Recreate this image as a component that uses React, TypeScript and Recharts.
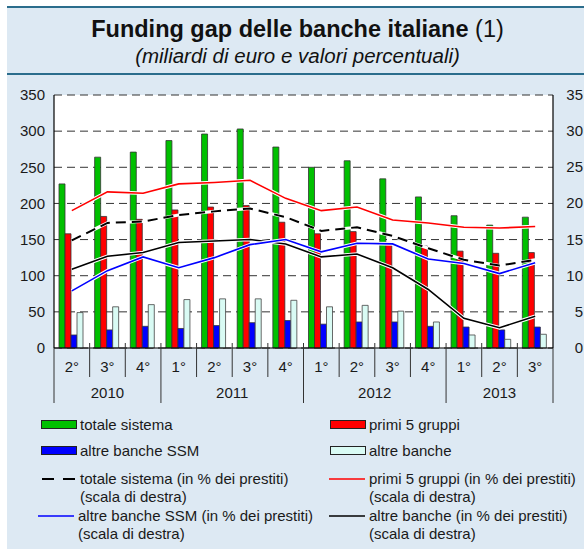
import {
  ComposedChart,
  Bar,
  Line,
  XAxis,
  YAxis,
  CartesianGrid,
} from "recharts";

const quarters = ["2°", "3°", "4°", "1°", "2°", "3°", "4°", "1°", "2°", "3°", "4°", "1°", "2°", "3°"];
const years = ["2010", "2010", "2010", "2011", "2011", "2011", "2011", "2012", "2012", "2012", "2012", "2013", "2013", "2013"];

// miliardi di euro (scala di sinistra)
const totaleSistema = [227, 264, 271, 287, 296, 303, 278, 250, 259, 234, 209, 183, 170, 181];
const primi5 = [158, 182, 178, 191, 195, 197, 174, 158, 161, 146, 141, 134, 131, 132];
const altreSSM = [18, 25, 30, 27, 31, 35, 38, 33, 36, 36, 30, 29, 25, 29];
const altreBanche = [49, 57, 60, 67, 68, 68, 66, 57, 59, 51, 36, 18, 12, 19];

// in % dei prestiti (scala di destra)
const totalePct = [14.9, 17.3, 17.5, 18.4, 18.9, 19.3, 18.1, 16.2, 16.7, 15.5, 13.8, 12.2, 11.4, 12.2];
const primi5Pct = [19.0, 21.6, 21.4, 22.7, 22.9, 23.2, 20.7, 19.0, 19.5, 17.7, 17.3, 16.7, 16.6, 16.8];
const altreSSMPct = [7.9, 10.7, 12.6, 11.1, 12.5, 14.3, 15.0, 13.3, 14.5, 14.4, 12.3, 11.7, 10.3, 11.8];
const altreBanchePct = [10.9, 12.7, 13.2, 14.6, 14.8, 15.0, 14.4, 12.6, 13.0, 11.1, 8.1, 4.1, 2.8, 4.4];

const leftTicks = [0, 50, 100, 150, 200, 250, 300, 350];
const rightTicks = [0, 5, 10, 15, 20, 25, 30, 35];

const data = quarters.map((q, i) => ({
  q,
  year: years[i],
  totaleSistema: totaleSistema[i],
  primi5: primi5[i],
  altreSSM: altreSSM[i],
  altreBanche: altreBanche[i],
  totalePct: totalePct[i],
  primi5Pct: primi5Pct[i],
  altreSSMPct: altreSSMPct[i],
  altreBanchePct: altreBanchePct[i],
}));

const FONT = '"Liberation Sans", Arial, Helvetica, sans-serif';
const BG = "#dde9f3";
const RULE = "#2b6d8c";
const TEXT = "#1a1a1a";

const GREEN = "#00c000";
const RED = "#ff0000";
const BLUE = "#0000ff";
const PALE = "#d9fbf4";

const CHART_W = 584;

function QuarterTick(props: any) {
  const { x, y, payload, index } = props;
  const half = payload && payload.offset ? payload.offset : 17.8;
  const i = index;
  const yearStart = i === 0 || years[i] !== years[i - 1];
  const last = i === quarters.length - 1;
  let yearLabel = null;
  if (yearStart) {
    const n = years.filter((yy) => yy === years[i]).length;
    yearLabel = (
      <text x={x - half + n * half} y={y + 50} textAnchor="middle" fontSize={15} fill={TEXT} fontFamily={FONT}>
        {years[i]}
      </text>
    );
  }
  return (
    <g>
      <line x1={x - half} x2={x - half} y1={y} y2={y + (yearStart ? 55 : 29)} stroke="#333" strokeWidth={1} />
      {i > 0 && <line x1={x - half} x2={x - half} y1={y} y2={y - 5} stroke="#333" strokeWidth={1} />}
      {last && <line x1={x + half} x2={x + half} y1={y} y2={y + 55} stroke="#333" strokeWidth={1} />}
      <text x={x} y={y + 24} textAnchor="middle" fontSize={15} fill={TEXT} fontFamily={FONT}>
        {payload.value}
      </text>
      {yearLabel}
    </g>
  );
}

// right-hand labels sit against the right edge of the figure
function RightTick(props: any) {
  const { x, y, payload } = props;
  return (
    <text x={x + 30} y={y + 5} textAnchor="end" fontSize={15} fill={TEXT} fontFamily={FONT}>
      {payload.value}
    </text>
  );
}

function BoxSwatch({ color }: { color: string }) {
  return (
    <span
      style={{
        display: "inline-block",
        width: 34,
        height: 7,
        background: color,
        border: "1px solid #222",
        marginRight: 3,
      }}
    />
  );
}

function LineSwatch({ color, dashed }: { color: string; dashed?: boolean }) {
  return (
    <svg width={37} height={8} style={{ marginRight: 3, flexShrink: 0 }}>
      <line
        x1={dashed ? 2 : 0}
        x2={36}
        y1={4}
        y2={4}
        stroke={color}
        strokeWidth={dashed ? 2 : 1.6}
        strokeDasharray={dashed ? "12 9" : undefined}
      />
    </svg>
  );
}

function LegendItem({ left, top, swatch, lines }: { left: number; top: number; swatch: any; lines: string[] }) {
  return (
    <div style={{ position: "absolute", left, top, display: "flex", alignItems: "flex-start", fontSize: 15, lineHeight: "17.5px", color: TEXT, whiteSpace: "nowrap" }}>
      <div style={{ height: 17.5, display: "flex", alignItems: "center" }}>{swatch}</div>
      <div>
        {lines.map((l) => (
          <div key={l}>{l}</div>
        ))}
      </div>
    </div>
  );
}

export default function App() {
  return (
    <div style={{ position: "fixed", left: 0, top: 0, width: 584, height: 549, background: "#fff", fontFamily: FONT }}>
      <div style={{ position: "absolute", left: 7, top: 6, width: 577, height: 541, background: BG, borderTop: `2px solid ${RULE}` }} />
      <div style={{ position: "absolute", left: 7, top: 73, width: 577, height: 2, background: RULE }} />
      <div style={{ position: "absolute", left: 7, width: 577, top: 16, textAlign: "center", fontSize: 23.5, color: "#111", paddingLeft: 4, boxSizing: "border-box" }}>
        <b>Funding gap delle banche italiane</b> (1)
      </div>
      <div style={{ position: "absolute", left: 7, width: 577, top: 44, textAlign: "center", fontSize: 20.5, fontStyle: "italic", color: "#111", paddingLeft: 4, boxSizing: "border-box" }}>
        (miliardi di euro e valori percentuali)
      </div>

      <div style={{ position: "absolute", left: 0, top: 0 }}>
        <ComposedChart
          width={CHART_W}
          height={410}
          data={data}
          margin={{ top: 95, right: 0, left: 0, bottom: 2 }}
          barCategoryGap={5}
          barGap={0}
          style={{ overflow: "visible" }}
        >
          <CartesianGrid
            vertical={false}
            fill="#ffffff"
            stroke="#333"
            strokeDasharray="8 5"
            horizontalValues={leftTicks}
            yAxisId="left"
          />
          <XAxis
            dataKey="q"
            height={60}
            interval={0}
            tickLine={false}
            tickSize={0}
            tickMargin={0}
            axisLine={{ stroke: "#000", strokeWidth: 1.2 }}
            tick={<QuarterTick />}
          />
          <YAxis
            yAxisId="left"
            width={54}
            domain={[0, 350]}
            ticks={leftTicks}
            tickLine={false}
            tickSize={0}
            tickMargin={9}
            axisLine={{ stroke: "#000", strokeWidth: 1.2 }}
            tick={{ fontSize: 15, fill: TEXT, fontFamily: FONT }}
          />
          <YAxis
            yAxisId="right"
            orientation="right"
            width={31}
            domain={[0, 35]}
            ticks={rightTicks}
            tickLine={false}
            tickSize={0}
            tickMargin={0}
            axisLine={{ stroke: "#000", strokeWidth: 1.2 }}
            tick={<RightTick />}
          />
          <Bar yAxisId="left" dataKey="totaleSistema" fill={GREEN} stroke="#333" strokeWidth={0.8} isAnimationActive={false} />
          <Bar yAxisId="left" dataKey="primi5" fill={RED} stroke="#333" strokeWidth={0.8} isAnimationActive={false} />
          <Bar yAxisId="left" dataKey="altreSSM" fill={BLUE} stroke="#333" strokeWidth={0.8} isAnimationActive={false} />
          <Bar yAxisId="left" dataKey="altreBanche" fill={PALE} stroke="#444" strokeWidth={0.8} isAnimationActive={false} />

          <Line yAxisId="right" dataKey="altreBanchePct" stroke="#fff" strokeWidth={3.6} dot={false} activeDot={false} isAnimationActive={false} />
          <Line yAxisId="right" dataKey="altreBanchePct" stroke="#000" strokeWidth={1.6} dot={false} activeDot={false} isAnimationActive={false} />
          <Line yAxisId="right" dataKey="altreSSMPct" stroke="#fff" strokeWidth={3.6} dot={false} activeDot={false} isAnimationActive={false} />
          <Line yAxisId="right" dataKey="altreSSMPct" stroke={BLUE} strokeWidth={1.6} dot={false} activeDot={false} isAnimationActive={false} />
          <Line yAxisId="right" dataKey="totalePct" stroke="#fff" strokeWidth={3.2} dot={false} activeDot={false} isAnimationActive={false} />
          <Line yAxisId="right" dataKey="totalePct" stroke="#000" strokeWidth={2} strokeDasharray="10 6" dot={false} activeDot={false} isAnimationActive={false} />
          <Line yAxisId="right" dataKey="primi5Pct" stroke="#fff" strokeWidth={3.6} dot={false} activeDot={false} isAnimationActive={false} />
          <Line yAxisId="right" dataKey="primi5Pct" stroke={RED} strokeWidth={1.6} dot={false} activeDot={false} isAnimationActive={false} />
        </ComposedChart>
      </div>

      <LegendItem left={41} top={416} swatch={<BoxSwatch color={GREEN} />} lines={["totale sistema"]} />
      <LegendItem left={330} top={416} swatch={<BoxSwatch color={RED} />} lines={["primi 5 gruppi"]} />
      <LegendItem left={41} top={442} swatch={<BoxSwatch color={BLUE} />} lines={["altre banche SSM"]} />
      <LegendItem left={330} top={442} swatch={<BoxSwatch color={PALE} />} lines={["altre banche"]} />
      <LegendItem left={40} top={470} swatch={<LineSwatch color="#000" dashed />} lines={["totale sistema (in % dei prestiti)", "(scala di destra)"]} />
      <LegendItem left={329} top={470} swatch={<LineSwatch color={RED} />} lines={["primi 5 gruppi (in % dei prestiti)", "(scala di destra)"]} />
      <LegendItem left={38} top={507} swatch={<LineSwatch color={BLUE} />} lines={["altre banche SSM (in % dei prestiti)", "(scala di destra)"]} />
      <LegendItem left={329} top={507} swatch={<LineSwatch color="#000" />} lines={["altre banche (in % dei prestiti)", "(scala di destra)"]} />
    </div>
  );
}
